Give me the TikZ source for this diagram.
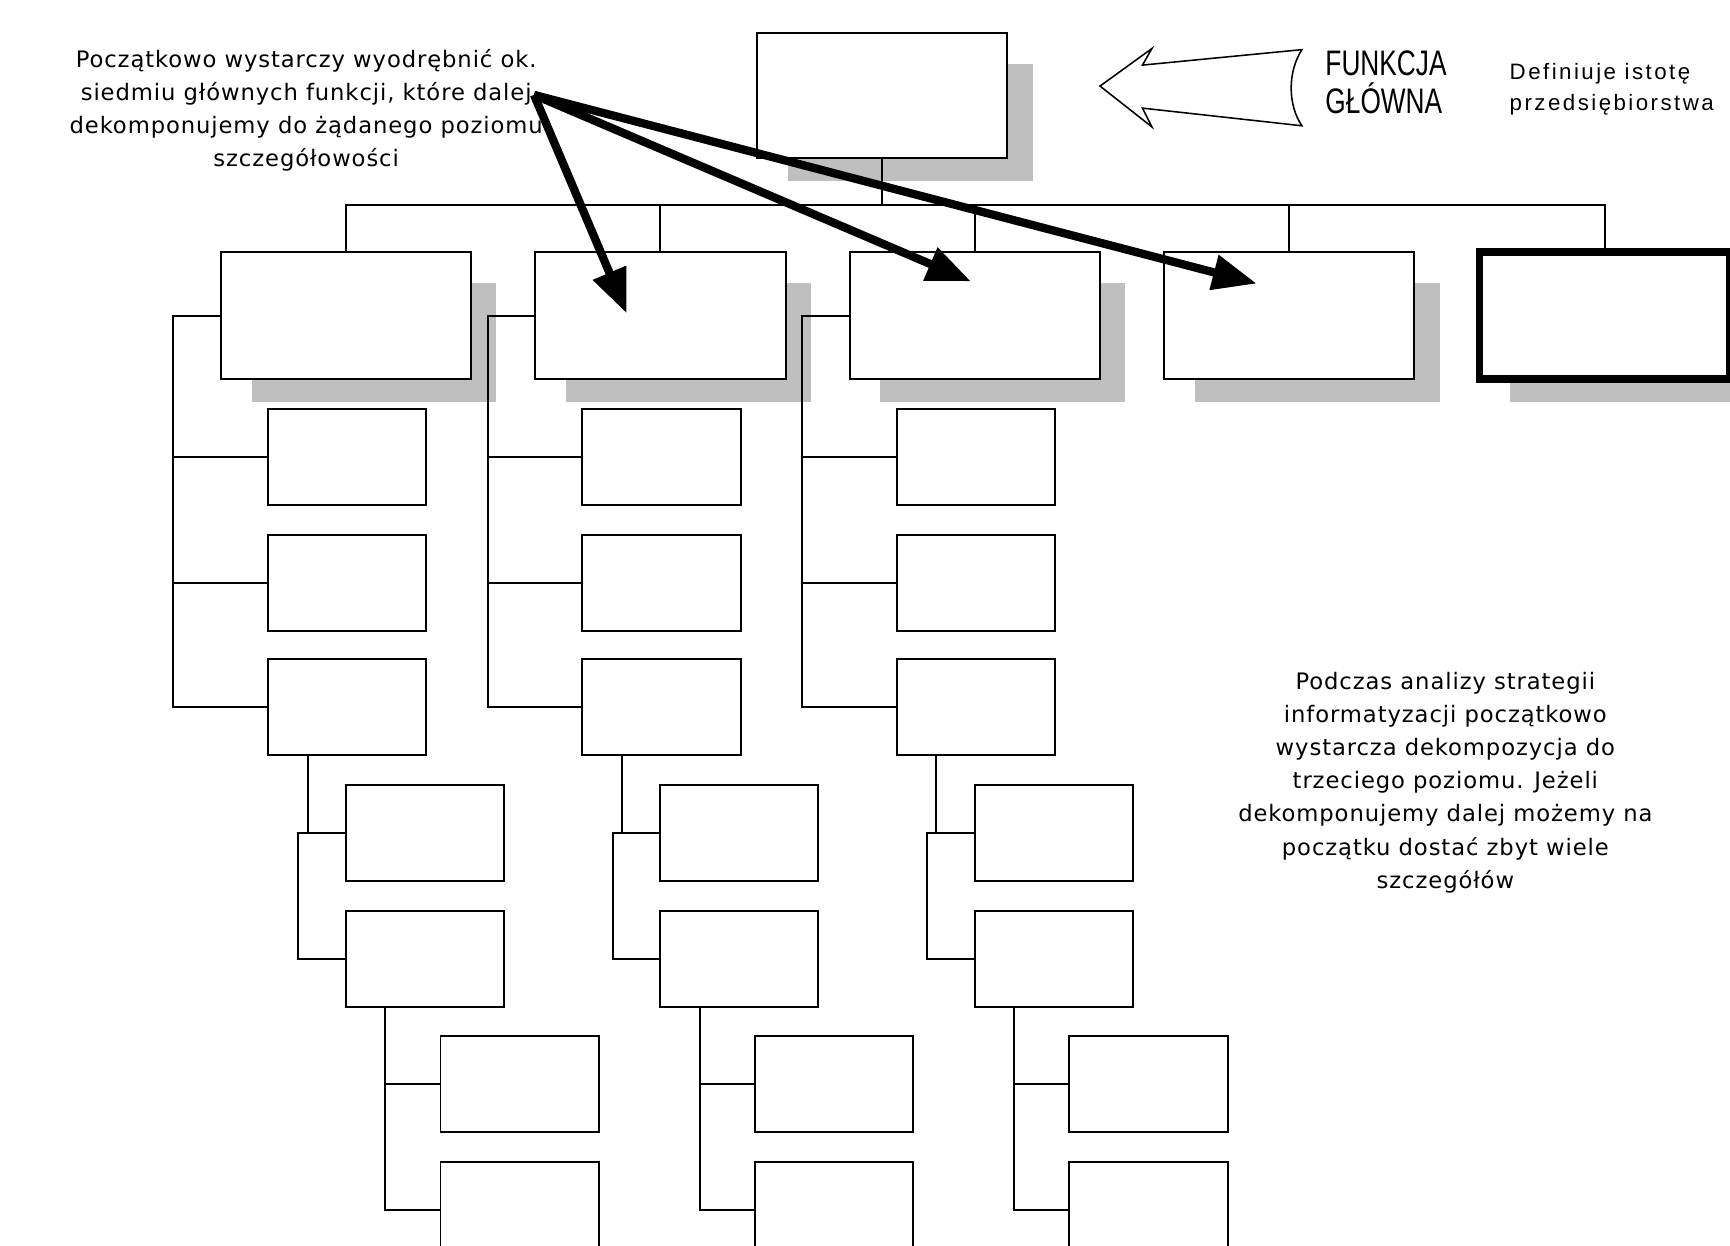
\documentclass[tikz,border=0pt]{standalone}
\usepackage{graphicx}
\usepackage{fontspec}
\setmainfont{DejaVu Sans}
\newfontfamily\notefont[LetterSpace=4]{DejaVu Sans}
\newfontfamily\capfont{Liberation Sans}
\newfontfamily\descfont[LetterSpace=11]{Liberation Sans}
\usetikzlibrary{calc,arrows.meta,backgrounds}

\tikzset{
  mainbox/.style={draw, line width=1pt, fill=white, outer sep=0pt, inner sep=0pt,
    minimum width=4.54cm, minimum height=2.3cm},
  topbox/.style={mainbox, minimum height=2.26cm},
  boldbox/.style={mainbox, line width=4pt},
  subbox/.style={draw, line width=1pt, fill=white, outer sep=0pt, inner sep=0pt,
    minimum width=2.87cm, minimum height=1.74cm},
  shade/.style={fill=black!25},
  link/.style={line width=1pt},
  pointer/.style={line width=0.15cm, -{Triangle[length=0.8cm,width=0.62cm]}},
}

\begin{document}
\begin{tikzpicture}[x=0.02cm, y=-0.02cm]
    \clip (0,0) rectangle (1568,1129);

    % Funkcja glowna
    \node[topbox] (top) at (799.5,86.5) {};

    % Funkcje pierwszego poziomu
    \foreach \i/\L in {1/200,2/485,3/770,4/1055}
        \node[mainbox] (f\i) at (\L+113.5,286) {};
    \node[boldbox] (f5) at (1454.5,286) {};

    % Szyna
    \coordinate (bus) at (799.5,186);
    \draw[link] (top.south) -- (bus);
    \foreach \i in {1,...,5}
        \draw[link] (f\i.north) |- (bus);

    % Dekompozycja w trzech kolumnach
    \foreach \i/\L in {1/200,2/485,3/770}{
        \node[subbox] (s\i1) at (\L+114.5,414) {};
        \node[subbox] (s\i2) at (\L+114.5,528) {};
        \node[subbox] (s\i3) at (\L+114.5,641) {};
        \node[subbox] (t\i1) at (\L+185,755) {};
        \node[subbox] (t\i2) at (\L+185,869) {};
        \node[subbox] (u\i1) at (\L+271,982.5) {};
        \node[subbox] (u\i2) at (\L+271,1097) {};

        % poziom 2
        \coordinate (sp\i) at ($(f\i.west)+(-43,0)$);
        \draw[link] (f\i.west) -- (sp\i) |- (s\i3.west);
        \draw[link] (s\i1.west) -- (s\i1.west -| sp\i);
        \draw[link] (s\i2.west) -- (s\i2.west -| sp\i);
        % poziom 3
        \coordinate (dr\i) at ($(s\i3.south west)+(36,0)$);
        \draw[link] (dr\i) -- (dr\i |- t\i1.west);
        \coordinate (br\i) at ($(t\i1.west)+(-43,0)$);
        \draw[link] (t\i1.west) -- (br\i) |- (t\i2.west);
        % poziom 4
        \coordinate (dq\i) at ($(t\i2.south west)+(36,0)$);
        \draw[link] (dq\i) |- (u\i2.west);
        \draw[link] (u\i1.west) -- (u\i1.west -| dq\i);
    }

    % Cienie
    \begin{scope}[on background layer]
        \foreach \n in {top,f1,f2,f3,f4,f5}
            \fill[shade] ($(\n.north west)+(28,28)$) rectangle ($(\n.south east)+(23,21)$);
    \end{scope}

    % Strzalka pusta
    \draw[line width=0.8pt, line join=miter] (997,78) -- (1044,44) -- (1035.5,59) -- (1180,45)
        .. controls (1167,65) and (1167,95) .. (1180,114) -- (1035.5,98) -- (1044,115) -- cycle;

    % Teksty
    \node[anchor=north west, inner sep=0pt, align=left,
        font=\capfont\fontsize{18.3}{19.4}\selectfont] (fname) at (1201,46)
        {\scalebox{0.74}[1]{FUNKCJA}\\\scalebox{0.74}[1]{GŁÓWNA}};
    \node[anchor=north west, inner sep=0pt, align=left,
        font=\descfont\fontsize{11.5}{15.9}\selectfont] (fdesc) at (1368,57)
        {Definiuje istotę\\przedsiębiorstwa};
    \node[anchor=north, inner sep=0pt, align=center,
        font=\notefont\fontsize{11.7}{17.07}\selectfont] (note) at (277.5,44)
        {Początkowo wystarczy wyodrębnić ok.\\siedmiu głównych funkcji, które dalej\\dekomponujemy do żądanego poziomu\\szczegółowości};
    \node[anchor=north, inner sep=0pt, align=center,
        font=\notefont\fontsize{11.7}{17.07}\selectfont] (hint) at (1310,609)
        {Podczas analizy strategii\\informatyzacji początkowo\\wystarcza dekompozycja do\\trzeciego poziomu. Jeżeli\\dekomponujemy dalej możemy na\\początku dostać zbyt wiele\\szczegółów};

    % Strzalki
    \coordinate (ptr) at (484,86);
    \coordinate (tip2) at (568,284);
    \coordinate (tip3) at (880,255);
    \coordinate (tip4) at (1139,257);
    \draw[pointer] (ptr) -- (tip2);
    \draw[pointer] (ptr) -- (tip3);
    \draw[pointer] (ptr) -- (tip4);
\end{tikzpicture}
\end{document}
